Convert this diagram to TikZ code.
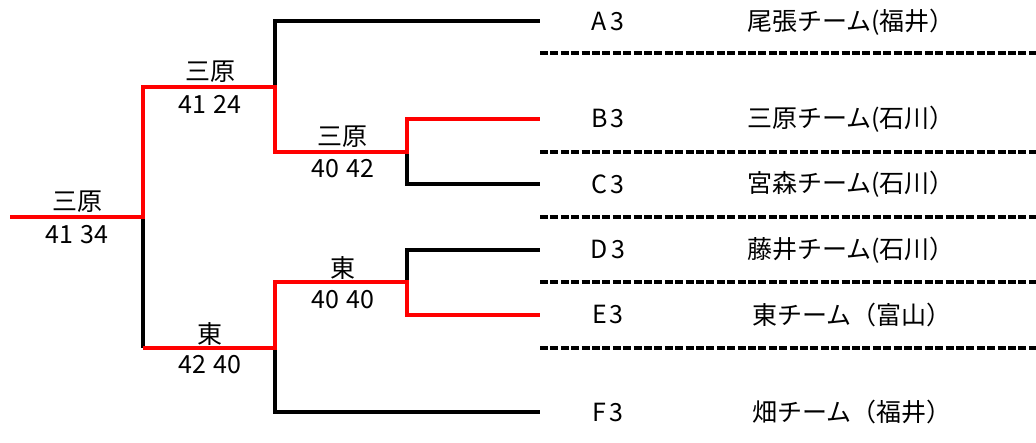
\documentclass[tikz,border=0pt]{standalone}
\usepackage{fontspec}
\setmainfont{Noto Sans CJK JP}
\begin{document}
\begin{tikzpicture}[x=1pt,y=-1pt,
  blk/.style={draw=black,line width=3.2pt,line join=miter,line cap=butt},
  win/.style={draw=red,line width=3.2pt,line join=miter,line cap=butt},
  sep/.style={draw=black,line width=3.2pt,dash pattern=on 8pt off 2.4pt},
  lbl/.style={inner sep=0pt,font=\fontsize{25}{27}\selectfont},
  seed/.style={lbl},
  team/.style={lbl}]
\useasboundingbox (0,0) rectangle (1036,443);
% coordinates
\coordinate (root) at (10,217);
\coordinate (j1) at (143,217);
\coordinate (j1t) at (143,87);
\coordinate (j1b) at (143,348);
\coordinate (j2t) at (275,87);
\coordinate (j2ta) at (275,21);
\coordinate (j2tb) at (275,152);
\coordinate (j2b) at (275,348);
\coordinate (j2ba) at (275,282);
\coordinate (j2bb) at (275,412);
\coordinate (j3t) at (407,152);
\coordinate (j3ta) at (407,119);
\coordinate (j3tb) at (407,184);
\coordinate (j3b) at (407,282);
\coordinate (j3ba) at (407,250);
\coordinate (j3bb) at (407,315);
\coordinate (eA) at (540,21);
\coordinate (eB) at (540,119);
\coordinate (eC) at (540,184);
\coordinate (eD) at (540,250);
\coordinate (eE) at (540,315);
\coordinate (eF) at (540,412);
% dashed separators
\foreach \y/\n in {53/s1,152/s2,217/s3,282/s4,348/s5}{
  \coordinate (\n a) at (540,\y);
  \coordinate (\n b) at (1036,\y);
  \draw[sep] (\n a) -- (\n b);
}
% black lines
\draw[blk] (j1) -- (j1b);
\draw[blk] (j2t) -- (j2ta) -- (eA);
\draw[blk] (j3t) -- (j3tb) -- (eC);
\draw[blk] (j3b) -- (j3ba) -- (eD);
\draw[blk] (j2b) -- (j2bb) -- (eF);
% winner lines
\draw[win] (root) -- (j1) -- (j1t) -- (j2t) -- (j2tb) -- (j3t) -- (j3ta) -- (eB);
\draw[win] (j1b) -- (j2b) -- (j2ba) -- (j3b) -- (j3bb) -- (eE);
% match labels
\node[lbl] (w0) at (77,202) {三原};
\node[lbl] (s0) at (77,235) {41\kern2pt{} 34};
\node[lbl] (w1) at (210,72) {三原};
\node[lbl] (s1) at (210,104) {41\kern2pt{} 24};
\node[lbl] (w2) at (342,137) {三原};
\node[lbl] (s2) at (343,169) {40\kern2pt{} 42};
\node[lbl] (w3) at (343,268) {東};
\node[lbl] (s3) at (343,300) {40\kern2pt{} 40};
\node[lbl] (w4) at (210,334) {東};
\node[lbl] (s4) at (210,365) {42\kern2pt{} 40};
% seeds
\node[seed] (A) at (608,22) {A\kern3pt3};
\node[seed] (B) at (608,119) {B\kern3pt3};
\node[seed] (C) at (608,184) {C\kern3pt3};
\node[seed] (D) at (608,250) {D\kern3pt3};
\node[seed] (E) at (608,315) {E\kern3pt3};
\node[seed] (F) at (608,412) {F\kern3pt3};
% teams
\node[team] (tA) at (851,22) {尾張チーム(福井）};
\node[team] (tB) at (851,119) {三原チーム(石川）};
\node[team] (tC) at (851,184) {宮森チーム(石川）};
\node[team] (tD) at (851,250) {藤井チーム(石川）};
\node[team] (tE) at (852,315) {東チーム（富山）};
\node[team] (tF) at (852,412) {畑チーム（福井）};
\end{tikzpicture}
\end{document}
